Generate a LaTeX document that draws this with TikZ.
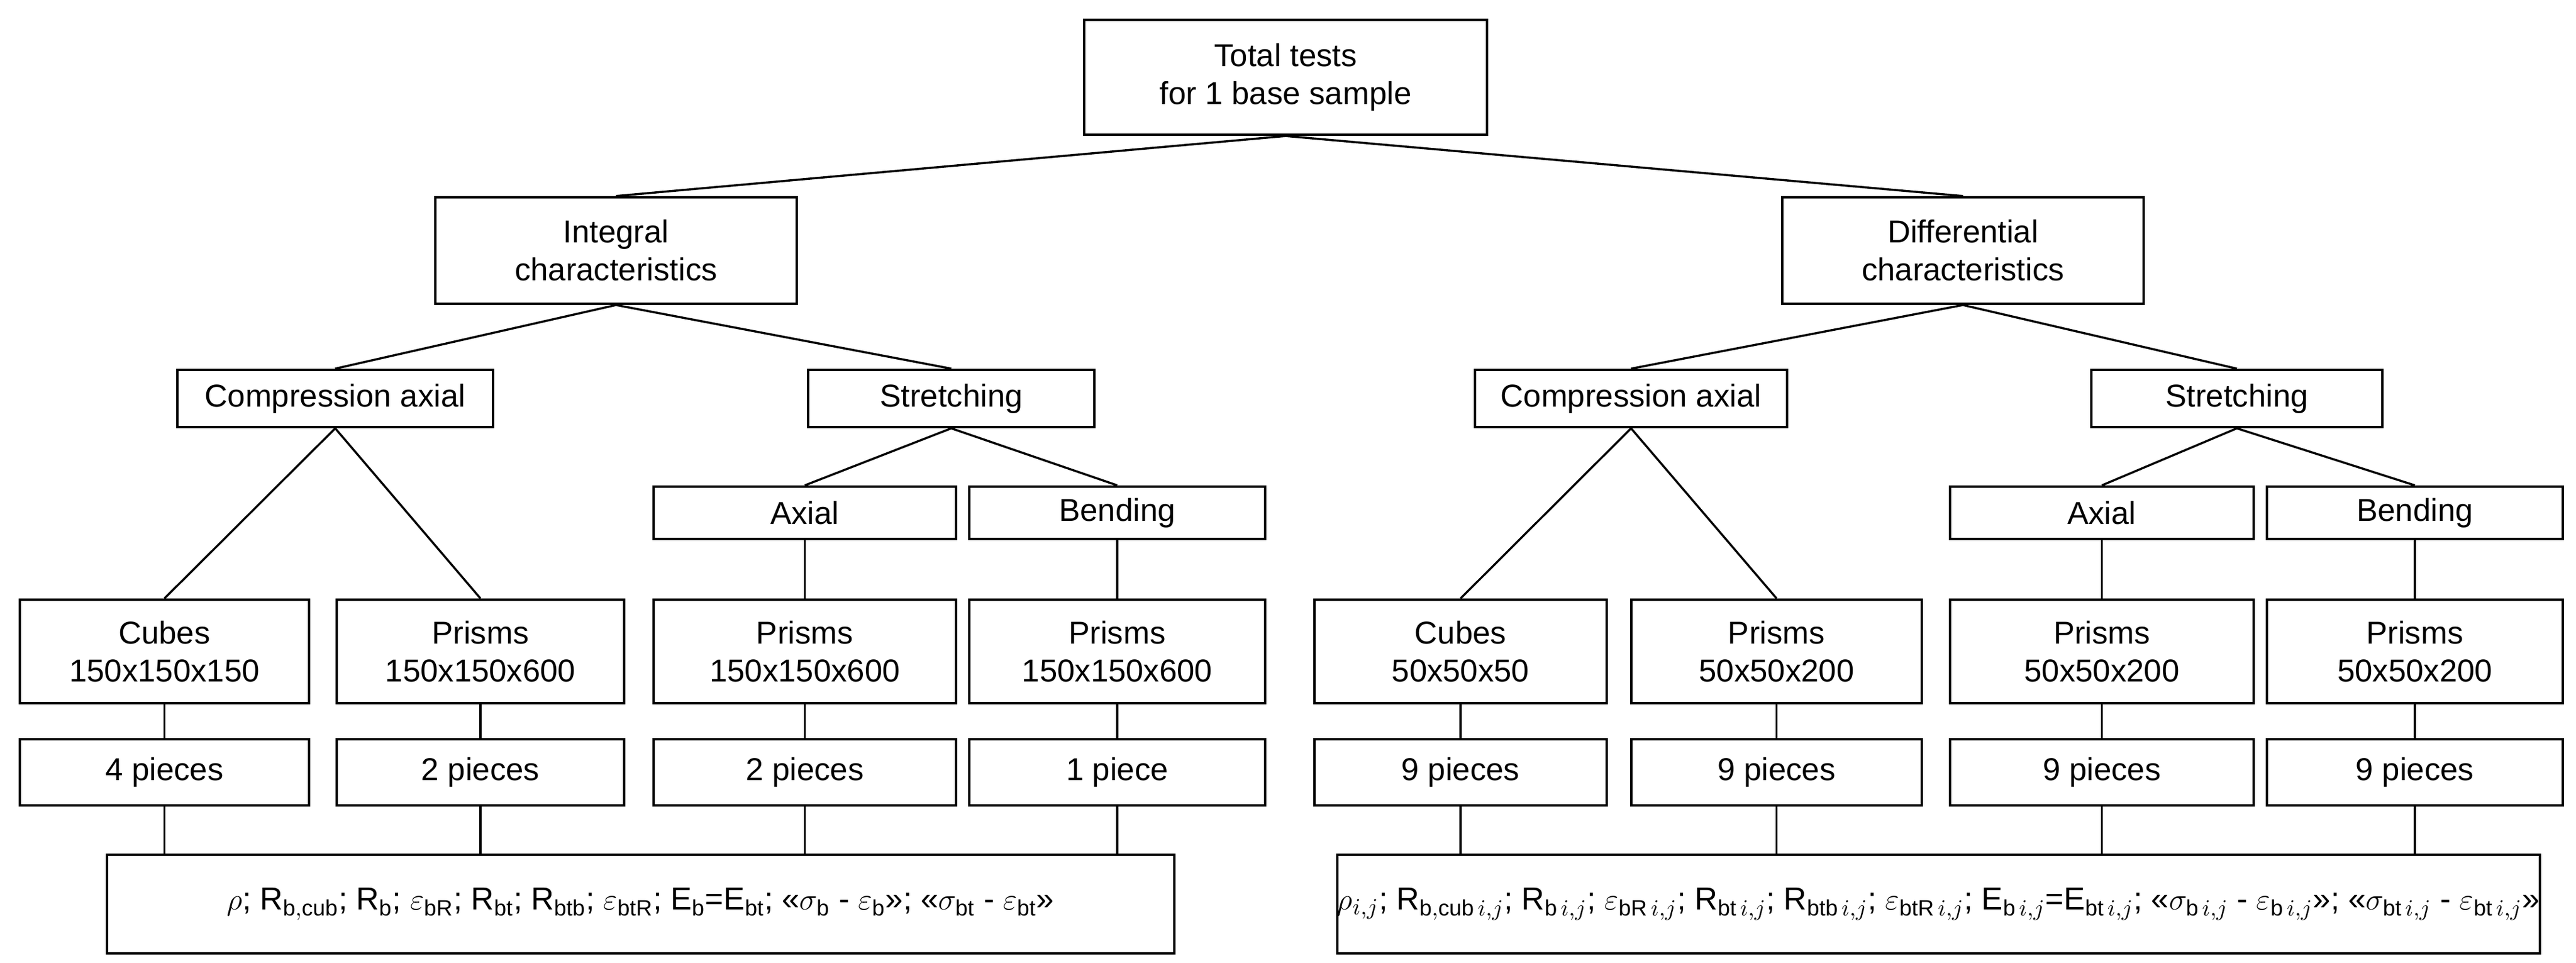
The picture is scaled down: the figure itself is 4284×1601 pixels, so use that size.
\documentclass[tikz,border=0pt]{standalone}
\usepackage{fontspec}
\setmainfont{Liberation Sans}
\begin{document}
\begin{tikzpicture}[x=0.1mm,y=-0.1mm,
 box/.style={draw,line width=1.2pt,align=center,inner sep=0pt,font=\fontsize{15}{18}\selectfont},
 ln/.style={line width=1pt}]
\useasboundingbox (0,0) rectangle (4284,1601);
\newcommand\bx[6]{\node[box,minimum width={(#4-#2)*0.1mm},minimum height={(#5-#3)*0.1mm}] (#1) at ({(#2+#4)/2},{(#3+#5)/2}) {#6};}
\bx{top}{1803}{33}{2473}{224}{Total tests\\for 1 base sample}
\bx{int}{724}{328}{1325}{505}{Integral\\characteristics}
\bx{dif}{2964}{328}{3565}{505}{Differential\\characteristics}
\bx{caL}{295}{615}{820}{710}{Compression axial}
\bx{stL}{1344}{615}{1820}{710}{Stretching}
\bx{caR}{2453}{615}{2972}{710}{Compression axial}
\bx{stR}{3478}{615}{3962}{710}{Stretching}
\bx{axL}{1087}{809}{1590}{896}{Axial}
\bx{beL}{1612}{809}{2104}{896}{Bending}
\bx{axR}{3243}{809}{3748}{896}{Axial}
\bx{beR}{3770}{809}{4262}{896}{Bending}
\bx{a1}{33}{997}{514}{1169}{Cubes\\150x150x150}
\bx{a2}{560}{997}{1038}{1169}{Prisms\\150x150x600}
\bx{a3}{1087}{997}{1590}{1169}{Prisms\\150x150x600}
\bx{a4}{1612}{997}{2104}{1169}{Prisms\\150x150x600}
\bx{a5}{2186}{997}{2672}{1169}{Cubes\\50x50x50}
\bx{a6}{2713}{997}{3196}{1169}{Prisms\\50x50x200}
\bx{a7}{3243}{997}{3748}{1169}{Prisms\\50x50x200}
\bx{a8}{3770}{997}{4262}{1169}{Prisms\\50x50x200}
\bx{p1}{33}{1229}{514}{1339}{4 pieces}
\bx{p2}{560}{1229}{1038}{1339}{2 pieces}
\bx{p3}{1087}{1229}{1590}{1339}{2 pieces}
\bx{p4}{1612}{1229}{2104}{1339}{1 piece}
\bx{p5}{2186}{1229}{2672}{1339}{9 pieces}
\bx{p6}{2713}{1229}{3196}{1339}{9 pieces}
\bx{p7}{3243}{1229}{3748}{1339}{9 pieces}
\bx{p8}{3770}{1229}{4262}{1339}{9 pieces}
\bx{bL}{178}{1421}{1953}{1585}{$\rho$; R$_{\mathrm{b,cub}}$; R$_\mathrm{b}$; $\varepsilon_{\mathrm{bR}}$; R$_{\mathrm{bt}}$; R$_{\mathrm{btb}}$; $\varepsilon_{\mathrm{btR}}$; E$_\mathrm{b}$=E$_\mathrm{bt}$; «$\sigma_\mathrm{b}$ - $\varepsilon_\mathrm{b}$»; «$\sigma_\mathrm{bt}$ - $\varepsilon_\mathrm{bt}$»}
\bx{bR}{2336}{1421}{4112}{1585}{$\rho_{i,j}$; R$_{\mathrm{b,cub}\,i,j}$; R$_{\mathrm{b}\,i,j}$; $\varepsilon_{\mathrm{bR}\,i,j}$; R$_{\mathrm{bt}\,i,j}$; R$_{\mathrm{btb}\,i,j}$; $\varepsilon_{\mathrm{btR}\,i,j}$; E$_{\mathrm{b}\,i,j}$=E$_{\mathrm{bt}\,i,j}$; «$\sigma_{\mathrm{b}\,i,j}$ - $\varepsilon_{\mathrm{b}\,i,j}$»; «$\sigma_{\mathrm{bt}\,i,j}$ - $\varepsilon_{\mathrm{bt}\,i,j}$»}
\draw[ln] (top.south) -- (int.north);
\draw[ln] (top.south) -- (dif.north);
\draw[ln] (int.south) -- (caL.north);
\draw[ln] (int.south) -- (stL.north);
\draw[ln] (dif.south) -- (caR.north);
\draw[ln] (dif.south) -- (stR.north);
\draw[ln] (caL.south) -- (a1.north);
\draw[ln] (caL.south) -- (a2.north);
\draw[ln] (caR.south) -- (a5.north);
\draw[ln] (caR.south) -- (a6.north);
\draw[ln] (stL.south) -- (axL.north);
\draw[ln] (stL.south) -- (beL.north);
\draw[ln] (stR.south) -- (axR.north);
\draw[ln] (stR.south) -- (beR.north);
\draw[ln] (axL) -- (a3); \draw[ln] (beL) -- (a4);
\draw[ln] (axR) -- (a7); \draw[ln] (beR) -- (a8);
\foreach \i in {1,...,8}{\draw[ln] (a\i) -- (p\i);}
\foreach \i in {1,...,4}{\draw[ln] (p\i.south) -- (p\i.south |- bL.north);}
\foreach \i in {5,...,8}{\draw[ln] (p\i.south) -- (p\i.south |- bR.north);}
\end{tikzpicture}
\end{document}
